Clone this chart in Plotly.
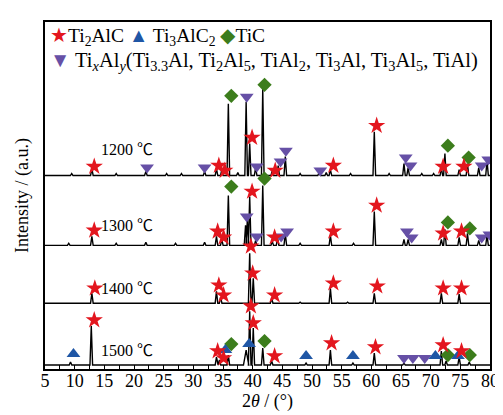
import plotly.graph_objects as go

# ---------------- data (2theta in degrees, intensity in a.u.) ----------------
temps = ["1200 ℃", "1300 ℃", "1400 ℃", "1500 ℃"]

# peak lists per pattern: positions and heights
p1200_x = [9.5, 12.9, 17.0, 22.0, 25.5, 28.0, 31.9, 33.9, 34.8, 35.9, 37.5, 38.9, 39.5, 40.5, 41.7, 43.3, 44.3, 45.5, 48.0, 51.2, 52.4, 53.1, 56.5, 60.5, 63.0, 65.5, 66.2, 68.5, 70.5, 71.8, 72.4, 74.8, 76.2, 78.1, 79.5]
p1200_h = [2, 7, 2, 4, 2, 2, 4, 7, 6, 72, 3, 74, 32, 8, 87, 5, 10, 19, 2, 3, 3, 6, 2, 44, 2, 12, 8, 2, 2, 8, 22, 6, 12, 8, 15]

p1300_x = [9.0, 12.9, 17.0, 22.0, 27.0, 31.9, 33.9, 34.8, 35.9, 38.8, 39.1, 39.5, 40.5, 41.7, 43.3, 44.2, 45.5, 48.0, 53.1, 57.0, 60.5, 65.5, 66.2, 71.8, 72.4, 74.8, 76.2, 78.1, 79.5]
p1300_h = [2, 9, 2, 3, 2, 3, 9, 6, 50, 20, 25, 49, 5, 60, 4, 7, 12, 2, 10, 2, 34, 6, 6, 6, 16, 8, 12, 5, 10]

p1400_x = [12.9, 33.9, 34.6, 39.5, 40.1, 43.2, 48.0, 53.1, 56.0, 60.5, 71.8, 74.8]
p1400_h = [10, 12, 6, 50, 25, 5, 1, 15, 1, 10, 10, 9]

p1500_x = [9.3, 12.8, 33.9, 34.4, 35.9, 38.9, 39.5, 40.1, 41.7, 43.2, 49.0, 53.1, 56.9, 60.5, 65.5, 71.8, 72.6, 74.8, 76.5]
p1500_h = [3, 39, 8, 5, 10, 15, 54, 37, 17, 4, 2, 15, 2, 12, 2, 14, 4, 8, 3]

# phase markers per pattern: (2theta, intensity above the pattern's baseline)
ti2alc_x = {
    "1200 ℃": [13.3, 34.3, 35.3, 39.9, 43.8, 53.6, 60.9, 72.1, 75.6],
    "1300 ℃": [13.3, 34.1, 35.1, 39.9, 43.7, 53.6, 60.9, 72.1, 75.2],
    "1400 ℃": [13.4, 34.3, 35.1, 39.7, 40.0, 43.7, 53.6, 61.0, 72.1, 75.2],
    "1500 ℃": [13.3, 34.1, 35.1, 39.7, 40.1, 43.7, 53.3, 60.7, 72.1, 75.2],
}
ti2alc_y = {
    "1200 ℃": [9, 10, 5, 38, 5, 10, 50, 9, 9],
    "1300 ℃": [15, 14, 8, 54, 8, 14, 40, 12, 14],
    "1400 ℃": [15, 18, 8, 57, 30, 8, 20, 17, 15, 15],
    "1500 ℃": [45, 14, 7, 59, 42, 9, 22, 18, 20, 14],
}
ti3alc2_x = {"1500 ℃": [9.8, 35.4, 39.4, 49.0, 56.9, 70.8, 74.6]}
ti3alc2_y = {"1500 ℃": [11, 15, 21, 9, 9, 9, 9]}
tic_x = {
    "1200 ℃": [36.4, 42.0, 72.9, 76.4],
    "1300 ℃": [36.4, 42.0, 72.9, 76.6],
    "1500 ℃": [36.4, 42.0, 72.9, 76.6],
}
tic_y = {
    "1200 ℃": [80, 91, 30, 18],
    "1300 ℃": [59, 67, 23, 17],
    "1500 ℃": [21, 24, 10, 10],
}
tixaly_x = {
    "1200 ℃": [22.2, 31.9, 39.0, 40.7, 44.7, 45.6, 51.4, 65.8, 66.6, 78.6, 79.7],
    "1300 ℃": [39.0, 40.7, 44.8, 45.8, 66.0, 66.8, 78.6, 79.9],
    "1500 ℃": [65.5, 67.0, 69.0],
}
tixaly_y = {
    "1200 ℃": [8, 8, 79, 9, 14, 25, 5, 18, 10, 10, 16],
    "1300 ℃": [29, 9, 9, 14, 14, 8, 8, 11],
    "1500 ℃": [7, 7, 7],
}

x_ticks = list(range(5, 81, 5))

# ---------------- layout helpers ----------------
offsets = {"1200 ℃": 194, "1300 ℃": 124, "1400 ℃": 66, "1500 ℃": 4}
label_dy = {"1200 ℃": 28, "1300 ℃": 21, "1400 ℃": 16, "1500 ℃": 16}
peaks = {
    "1200 ℃": (p1200_x, p1200_h),
    "1300 ℃": (p1300_x, p1300_h),
    "1400 ℃": (p1400_x, p1400_h),
    "1500 ℃": (p1500_x, p1500_h),
}
FONT = "Liberation Serif, Times New Roman, serif"
CJK = "Noto Sans CJK SC"
C_STAR, C_UP, C_DIA, C_DOWN = "#e3161e", "#1f56a5", "#3c7d1c", "#6650a6"


def profile(px, ph, base):
    xs, ys = [5.0], [base]
    for p, h in sorted(zip(px, ph)):
        w = 0.45 if p == 38.9 and h < 20 else 0.22
        xs += [p - w, p, p + w]
        ys += [base, base + h, base]
    xs.append(80.0)
    ys.append(base)
    return xs, ys


fig = go.Figure()
for t in temps:
    xs, ys = profile(*peaks[t], offsets[t])
    fig.add_trace(go.Scatter(x=xs, y=ys, mode="lines",
                             line=dict(color="black", width=1.4), showlegend=False))


def add_markers(dx, dy, symbol, color, size):
    for t in dx:
        fig.add_trace(go.Scatter(
            x=dx[t], y=[offsets[t] + v for v in dy[t]], mode="markers",
            marker=dict(symbol=symbol, color=color, size=size, line=dict(width=0)),
            showlegend=False))


add_markers(tixaly_x, tixaly_y, "triangle-down", C_DOWN, 12)
add_markers(tic_x, tic_y, "diamond", C_DIA, 11)
add_markers(ti3alc2_x, ti3alc2_y, "triangle-up", C_UP, 12)
add_markers(ti2alc_x, ti2alc_y, "star", C_STAR, 13)

for t in temps:
    num = t.split(" ")[0]
    fig.add_annotation(x=18.8, y=offsets[t] + label_dy[t],
                       text=f"{num} <span style='font-family:{CJK}'>℃</span>",
                       showarrow=False,
                       font=dict(family=FONT, size=16, color="black"))

legend1 = (f"<span style='color:{C_STAR}'>★</span>Ti<sub>2</sub>AlC "
           f"<span style='color:{C_UP}'>▲</span> Ti<sub>3</sub>AlC<sub>2</sub> "
           f"<span style='color:{C_DIA}'>◆</span>TiC")
legend2 = (f"<span style='color:{C_DOWN}'>▼</span> Ti<sub><i>x</i></sub>Al<sub><i>y</i></sub>"
           "(Ti<sub>3.3</sub>Al, Ti<sub>2</sub>Al<sub>5</sub>, TiAl<sub>2</sub>, "
           "Ti<sub>3</sub>Al, Ti<sub>3</sub>Al<sub>5</sub>, TiAl)")
fig.add_annotation(xref="paper", yref="paper", x=0.006, y=0.958, xanchor="left",
                   yanchor="middle", text=legend1, showarrow=False,
                   font=dict(family=FONT, size=19.5, color="black"))
fig.add_annotation(xref="paper", yref="paper", x=0.006, y=0.886, xanchor="left",
                   yanchor="middle", text=legend2, showarrow=False,
                   font=dict(family=FONT, size=20.5, color="black"))

fig.update_layout(
    width=503, height=415,
    margin=dict(l=37, r=12, t=13, b=54),
    paper_bgcolor="white", plot_bgcolor="white",
    font=dict(family=FONT, size=18, color="black"),
    xaxis=dict(range=[5, 80], tickvals=x_ticks, ticktext=[str(v) for v in x_ticks],
               ticks="inside", ticklen=4, tickcolor="black", showgrid=False,
               zeroline=False, showline=True, linecolor="black", linewidth=1.5,
               mirror=True, tickfont=dict(family=FONT, size=18),
               ticklabelstandoff=-5,
               minor=dict(ticks="inside", dtick=2.5, ticklen=4, tickcolor="black"),
               title=dict(text="2<i>θ</i> / (°)", standoff=0,
                          font=dict(family=FONT, size=18))),
    yaxis=dict(range=[0, 348], showticklabels=False, ticks="", showgrid=False,
               zeroline=False, showline=True, linecolor="black", linewidth=1.5,
               mirror=True,
               title=dict(text="Intensity / (a.u.)", standoff=10,
                          font=dict(family=FONT, size=18))),
)

fig.write_html("out.html")
